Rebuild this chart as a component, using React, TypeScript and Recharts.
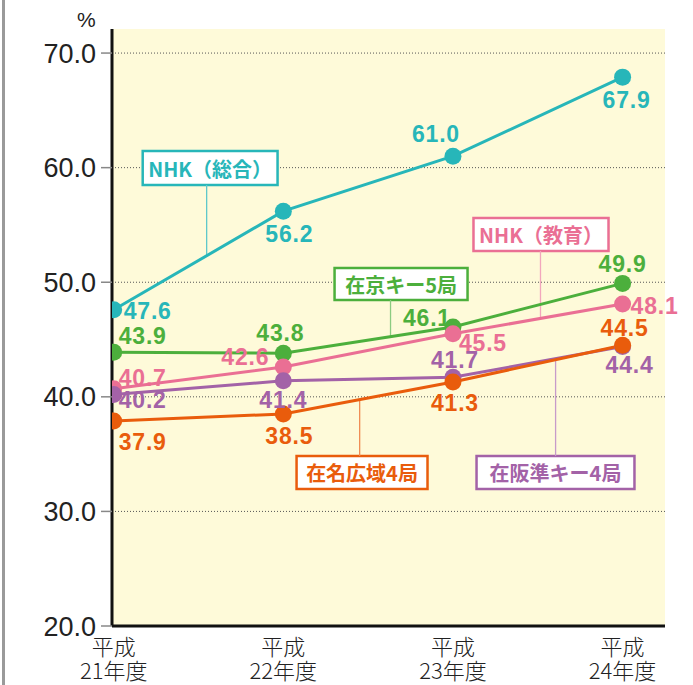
import React from 'react';
import {
  LineChart,
  Line,
  XAxis,
  YAxis,
  CartesianGrid,
  LabelList,
  ReferenceArea,
  ReferenceLine,
} from 'recharts';

// 年度（平成）
const years = [21, 22, 23, 24];
const yTicks = [20, 30, 40, 50, 60, 70];

// 各局の値 (%)
const nhkGeneral = [47.6, 56.2, 61.0, 67.9];
const tokyoKey5 = [43.9, 43.8, 46.1, 49.9];
const nhkEducation = [40.7, 42.6, 45.5, 48.1];
const osakaKey4 = [40.2, 41.4, 41.7, 44.4];
const nagoya4 = [37.9, 38.5, 41.3, 44.5];

const seriesNames = ['NHK（総合）', '在京キー5局', 'NHK（教育）', '在阪準キー4局', '在名広域4局'];

const data = years.map((y, i) => ({
  year: y,
  nhkGeneral: nhkGeneral[i],
  tokyoKey5: tokyoKey5[i],
  nhkEducation: nhkEducation[i],
  osakaKey4: osakaKey4[i],
  nagoya4: nagoya4[i],
}));

// drawing order: later ones sit on top
const series = [
  {
    key: 'nhkGeneral', name: seriesNames[0], values: nhkGeneral, color: '#27b6b9', leader: '#5fc8ca',
    offsets: [[34, 1], [6, 23], [-17, -22], [4, 23]],
    box: { x1: 21.171, x2: 21.966, y1: 58.48, y2: 61.45 }, leaderX: 21.548, below: true,
  },
  {
    key: 'tokyoKey5', name: seriesNames[1], values: tokyoKey5, color: '#4caf3c', leader: '#8ccb80',
    offsets: [[29, -16], [-3, -20], [-26, -9], [0, -19]],
    box: { x1: 22.302, x2: 23.086, y1: 48.45, y2: 51.24 }, leaderX: 22.632, below: true,
  },
  {
    key: 'nhkEducation', name: seriesNames[2], values: nhkEducation, color: '#ea6f94', leader: '#f2a6bd',
    offsets: [[29, -11], [-38, -10], [30, 9], [32, 2]],
    box: { x1: 23.121, x2: 23.917, y1: 52.72, y2: 55.6 }, leaderX: 23.516, below: true,
  },
  {
    key: 'osakaKey4', name: seriesNames[3], values: osakaKey4, color: '#a362a7', leader: '#c79bca',
    offsets: [[29, 5], [0, 19], [2, -17], [7, 19]],
    box: { x1: 23.139, x2: 24.07, y1: 31.95, y2: 34.83 }, leaderX: 23.605, below: false,
  },
  {
    key: 'nagoya4', name: seriesNames[4], values: nagoya4, color: '#e95c0c', leader: '#f08c52',
    offsets: [[29, 21], [6, 22], [2, 21], [2, -17]],
    box: { x1: 22.078, x2: 22.85, y1: 31.95, y2: 34.83 }, leaderX: 22.45, below: false,
  },
];

// value of a series at fractional year x (for leader-line end)
const valueAt = (values: number[], x: number) => {
  const i = Math.min(Math.floor(x - years[0]), values.length - 2);
  const t = x - years[0] - i;
  return values[i] + (values[i + 1] - values[i]) * t;
};

const labelFont = '"Liberation Sans Narrow", "Liberation Sans", sans-serif';
const jpFont = '"Noto Sans CJK JP", sans-serif';

const makeLabel = (color: string, offsets: number[][]) => (props: any) => {
  const { x, y, value, index } = props;
  const [dx, dy] = offsets[index] || [0, 0];
  return (
    <text
      x={x + dx}
      y={y + dy}
      textAnchor="middle"
      dominantBaseline="central"
      fill={color}
      fontFamily={labelFont}
      fontWeight="bold"
      fontSize={23}
      letterSpacing={0.8}
    >
      {Number(value).toFixed(1)}
    </text>
  );
};

const YearTick = (props: any) => {
  const { x, y, payload } = props;
  return (
    <g transform={`translate(${x},${y})`}>
      <text textAnchor="middle" fontFamily={jpFont} fontSize={22} fontWeight={300} fill="#222">
        <tspan x={0} dy={21}>平成</tspan>
        <tspan x={0} dy={24}>{`${payload.value}年度`}</tspan>
      </text>
    </g>
  );
};

const App = () => {
  return (
    <div style={{ position: 'absolute', left: 0, top: 0, width: 693, height: 685, background: '#fff' }}>
      <div style={{ position: 'absolute', left: 2, top: 0, width: 3, height: 685, background: '#9a9a9a' }} />
      <div
        style={{
          position: 'absolute', left: 77, top: 8, fontFamily: '"Liberation Sans", sans-serif',
          fontSize: 21, color: '#222',
        }}
      >
        %
      </div>
      <LineChart width={693} height={685} data={data} margin={{ top: 29, right: 28, left: 0, bottom: 0 }}>
        <CartesianGrid
          vertical={false}
          fill="#fefad9"
          stroke="#555"
          strokeDasharray="1 2"
          horizontalValues={[30, 40, 50, 60, 70]}
        />
        <XAxis
          dataKey="year"
          type="number"
          domain={[20.99, 24.25]}
          ticks={years}
          allowDataOverflow
          height={59}
          tickLine={false}
          axisLine={{ stroke: '#111', strokeWidth: 3 }}
          tick={<YearTick />}
          interval={0}
        />
        <YAxis
          type="number"
          domain={[20, 72.1]}
          ticks={yTicks}
          allowDataOverflow
          width={112}
          tickSize={11}
          tickMargin={5}
          tickLine={{ stroke: '#888', strokeWidth: 1.5 }}
          axisLine={{ stroke: '#111', strokeWidth: 3 }}
          tick={{ fontFamily: '"Liberation Sans", sans-serif', fontSize: 27, fill: '#222' }}
          tickFormatter={(v: number) => v.toFixed(1)}
        />
        {series.map((s) => {
          const lineY = valueAt(s.values, s.leaderX);
          return (
            <ReferenceLine
              key={`leader-${s.key}`}
              segment={[
                { x: s.leaderX, y: s.below ? s.box.y1 : s.box.y2 },
                { x: s.leaderX, y: lineY },
              ]}
              stroke={s.leader}
              strokeWidth={1.3}
              ifOverflow="visible"
            />
          );
        })}
        {series.map((s) => (
          <Line
            key={s.key}
            dataKey={s.key}
            name={s.name}
            stroke={s.color}
            strokeWidth={3}
            dot={{ r: 8.5, fill: s.color, stroke: 'none' }}
            activeDot={false}
            isAnimationActive={false}
          >
            <LabelList dataKey={s.key} content={makeLabel(s.color, s.offsets)} />
          </Line>
        ))}
        {series.map((s) => (
          <ReferenceArea
            key={`box-${s.key}`}
            x1={s.box.x1}
            x2={s.box.x2}
            y1={s.box.y1}
            y2={s.box.y2}
            fill="#fff"
            fillOpacity={1}
            stroke={s.color}
            strokeWidth={2.5}
            ifOverflow="visible"
            label={(props: any) => {
              const vb = props.viewBox || {};
              return (
                <text
                  x={vb.x + vb.width / 2}
                  y={vb.y + vb.height / 2}
                  textAnchor="middle"
                  dominantBaseline="central"
                  fill={s.color}
                  fontFamily={jpFont}
                  fontWeight="bold"
                  fontSize={20}
                >
                  {s.name}
                </text>
              );
            }}
          />
        ))}
      </LineChart>
    </div>
  );
};

export default App;
